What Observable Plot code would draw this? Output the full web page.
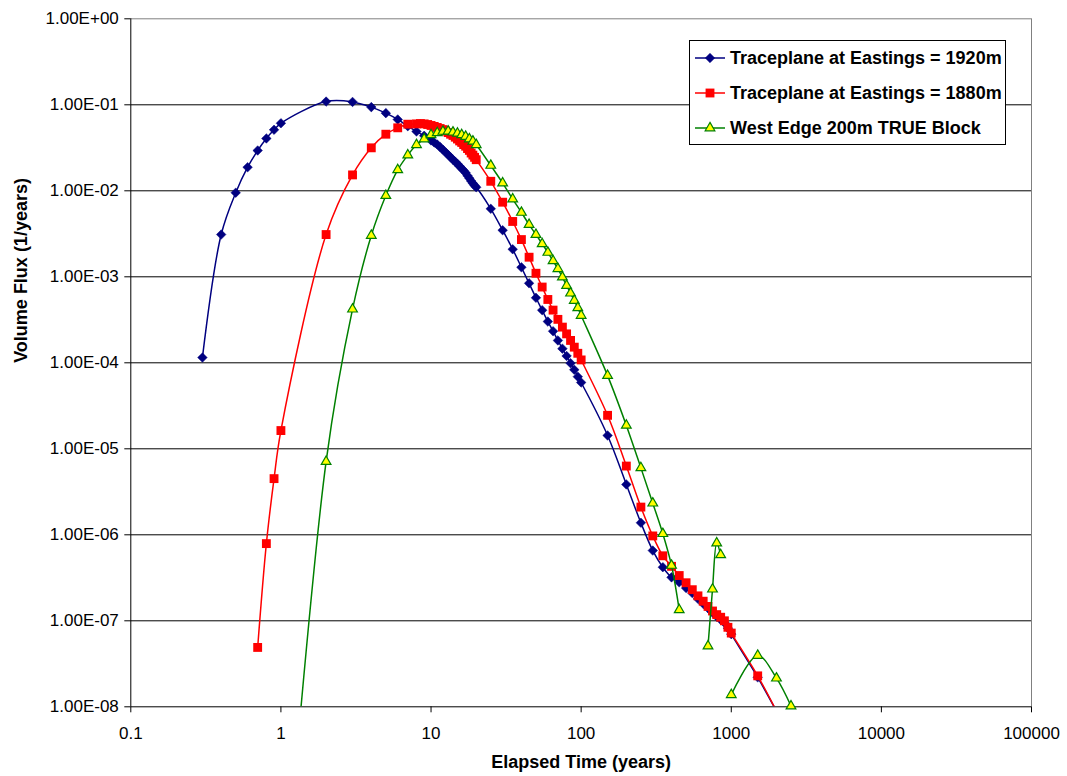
<!DOCTYPE html>
<html><head><meta charset="utf-8">
<script src="https://cdn.jsdelivr.net/npm/d3@7"></script>
<script src="https://cdn.jsdelivr.net/npm/@observablehq/plot@0.6"></script>
<style>
body{margin:0;background:#fff;}
#wrap{position:relative;width:1067px;height:776px;font-family:"Liberation Sans",Arial,sans-serif;}
#legend{position:absolute;left:689px;top:40px;width:315px;height:103px;border:1px solid #000;background:#fff;}
.row{position:absolute;left:0;height:20px;display:flex;align-items:center;font-weight:bold;font-size:18px;white-space:nowrap;color:#000;}
.row svg{margin-left:5px;margin-right:5px;}
</style></head><body><div id="wrap"></div>
<script>
// ---- tick values / labels ----
const xTickValues = [0.1, 1, 10, 100, 1000, 10000, 100000];
const xTickLabels = ["0.1", "1", "10", "100", "1000", "10000", "100000"];
const yTickValues = [1, 1e-1, 1e-2, 1e-3, 1e-4, 1e-5, 1e-6, 1e-7, 1e-8];
const yTickLabels = ["1.00E+00", "1.00E-01", "1.00E-02", "1.00E-03", "1.00E-04", "1.00E-05", "1.00E-06", "1.00E-07", "1.00E-08"];
const xTitle = "Elapsed Time (years)";
const yTitle = "Volume Flux (1/years)";
const seriesNames = ["Traceplane at Eastings = 1920m", "Traceplane at Eastings = 1880m", "West Edge 200m TRUE Block"];

// ---- series 1: Traceplane at Eastings = 1920m ----
const blueT = [0.3,0.4,0.5,0.6,0.7,0.8,0.9,1,2,3,4,5,6,7,8,9,10,
  10.5,11,11.5,12,12.5,13,13.5,14,14.5,15,15.5,16,16.5,17,17.5,18,18.5,19,19.5,20,
  25,30,35,40,45,50,55,60,65,70,75,80,85,90,95,100,
  150,200,250,300,350,400,450,500,550,600,650,700,750,800,850,900,950,1000,1500,2000];
const blueV = [1.15e-4,3.1e-3,9.5e-3,1.88e-2,2.94e-2,4.06e-2,5.12e-2,6.1e-2,0.109,0.108,0.094,0.080,0.0675,0.0564,0.049,0.0436,0.0385,
  3.65e-2,3.45e-2,3.22e-2,3.0e-2,2.8e-2,2.62e-2,2.45e-2,2.3e-2,2.18e-2,2.05e-2,1.93e-2,1.82e-2,1.72e-2,1.62e-2,1.5e-2,1.4e-2,1.3e-2,1.22e-2,1.15e-2,1.1e-2,
  6.18e-3,3.48e-3,2.09e-3,1.29e-3,8.4e-4,5.7e-4,4.09e-4,3.02e-4,2.33e-4,1.82e-4,1.46e-4,1.2e-4,9.9e-5,8.3e-5,6.9e-5,5.9e-5,
  1.43e-5,3.85e-6,1.38e-6,6.56e-7,4.2e-7,3.2e-7,2.8e-7,2.4e-7,2.1e-7,1.8e-7,1.58e-7,1.4e-7,1.25e-7,1.12e-7,1.03e-7,9.5e-8,8.2e-8,7.0e-8,2.2e-8,8.9e-9];

// ---- series 2: Traceplane at Eastings = 1880m ----
const redT = [0.7,0.8,0.9,1,2,3,4,5,6,7,
  8,8.5,9,9.5,10,10.5,11,11.5,12,12.5,13,13.5,14,14.5,15,15.5,16,16.5,17,17.5,18,18.5,19,19.5,20,
  25,30,35,40,45,50,55,60,65,70,75,80,85,90,95,100,
  150,200,250,300,350,400,450,500,550,600,650,700,750,800,850,900,950,1000,1500,2000];
const redV = [4.9e-8,7.9e-7,4.5e-6,1.63e-5,3.1e-3,1.53e-2,3.16e-2,4.55e-2,5.4e-2,5.95e-2,
  6.0e-2,6.05e-2,6.0e-2,5.9e-2,5.75e-2,5.6e-2,5.45e-2,5.3e-2,5.15e-2,4.95e-2,4.75e-2,4.55e-2,4.4e-2,4.2e-2,4.0e-2,3.8e-2,3.65e-2,3.45e-2,3.3e-2,3.1e-2,2.95e-2,2.75e-2,2.6e-2,2.45e-2,2.3e-2,
  1.29e-2,7.37e-3,4.4e-3,2.71e-3,1.69e-3,1.1e-3,7.6e-4,5.45e-4,4.1e-4,3.2e-4,2.6e-4,2.17e-4,1.82e-4,1.52e-4,1.29e-4,1.08e-4,
  2.45e-5,6.3e-6,2.1e-6,9.7e-7,5.7e-7,4.3e-7,3.36e-7,2.77e-7,2.3e-7,1.95e-7,1.69e-7,1.47e-7,1.3e-7,1.18e-7,1.1e-7,1.0e-7,8.4e-8,7.2e-8,2.29e-8,8.9e-9];

// ---- series 3: West Edge 200m TRUE Block ----
const greenT = [1,2,3,4,5,6,7,8,9,10,11,12,13,14,15,16,17,18,19,20,
  25,30,35,40,45,50,55,60,65,70,75,80,85,90,95,100,
  150,200,250,300,350,400,450,500,550,600,650,700,750,800,850,900,950,1000,1500,2000,2500];
const greenV = [2e-11,7.1e-6,4.2e-4,3.02e-3,8.8e-3,1.75e-2,2.6e-2,3.43e-2,4.0e-2,4.48e-2,4.72e-2,4.9e-2,4.93e-2,4.8e-2,4.66e-2,4.48e-2,4.28e-2,4.0e-2,3.77e-2,3.43e-2,
  1.97e-2,1.23e-2,8.0e-3,5.6e-3,4.05e-3,3.1e-3,2.42e-3,1.92e-3,1.53e-3,1.24e-3,9.9e-4,7.9e-4,6.45e-4,5.3e-4,4.36e-4,3.55e-4,
  7.1e-5,1.87e-5,6.0e-6,2.33e-6,1.03e-6,4.4e-7,1.34e-7,null,null,null,null,5.07e-8,2.33e-7,8.0e-7,5.85e-7,null,null,1.38e-8,3.95e-8,2.15e-8,1.02e-8];

const styles = [
  {stroke: "#000080", fill: "#000080", symbol: "diamond2", r: 4.3, sw: 0.5},
  {stroke: "#FF0000", fill: "#FF0000", symbol: "square", r: 5, sw: 0},
  {stroke: "#008000", fill: "#FFFF00", symbol: "triangle", r: 3.6, sw: 1.2}
];
const raw = [[blueT, blueV], [redT, redV], [greenT, greenV]];
const yMin = yTickValues[yTickValues.length - 1];

const marks = [
  Plot.ruleY(yTickValues.slice(1), {stroke: "#000", strokeWidth: 1}),
  Plot.ruleY([yTickValues[0]], {stroke: "#808080", strokeWidth: 1}),
  Plot.ruleX([xTickValues[xTickValues.length - 1]], {stroke: "#808080", strokeWidth: 1}),
  Plot.ruleX([xTickValues[0]], {stroke: "#000", strokeWidth: 1}),
  Plot.axisY({ticks: yTickValues, tickFormat: d => yTickLabels[yTickValues.indexOf(d)], tickSize: 6, tickPadding: 6, label: null, fontSize: 17}),
  Plot.axisX({ticks: xTickValues, tickFormat: d => xTickLabels[xTickValues.indexOf(d)], tickSize: 6, tickPadding: 14, label: null, fontSize: 17}),
  Plot.text([xTitle], {text: d => d, frameAnchor: "bottom", dy: 61, fontWeight: "bold", fontSize: 18}),
  Plot.text([yTitle], {text: d => d, frameAnchor: "left", dx: -110, rotate: -90, fontWeight: "bold", fontSize: 18})
];

raw.forEach(([T, V], i) => {
  const s = styles[i];
  const rows = T.map((t, j) => ({t, v: V[j]}));
  marks.push(Plot.line(rows, {x: "t", y: "v", stroke: s.stroke, strokeWidth: 1.5, curve: "catmull-rom", clip: true}));
  marks.push(Plot.dot(rows, {filter: d => d.v != null && d.v >= yMin, x: "t", y: "v", symbol: s.symbol, r: s.r, fill: s.fill, stroke: s.stroke, strokeWidth: s.sw}));
});

const chart = Plot.plot({
  width: 1067, height: 776,
  marginLeft: 130.3, marginRight: 36, marginTop: 18.3, marginBottom: 69.7,
  x: {type: "log", domain: [xTickValues[0], xTickValues[xTickValues.length - 1]]},
  y: {type: "log", domain: [yMin, yTickValues[0]]},
  style: {fontFamily: "'Liberation Sans', Arial, sans-serif", fontSize: "17px", color: "#000", background: "#fff"},
  marks
});
const wrap = document.getElementById("wrap");
wrap.appendChild(chart);

// ---- legend ----
const legend = document.createElement("div");
legend.id = "legend";
const centers = [17, 52, 87];
seriesNames.forEach((name, i) => {
  const s = styles[i];
  const row = document.createElement("div");
  row.className = "row";
  row.style.top = (centers[i] - 10) + "px";
  const svg = d3.create("svg").attr("width", 30).attr("height", 20);
  svg.append("line").attr("x1", 0).attr("x2", 30).attr("y1", 10).attr("y2", 10).attr("stroke", s.stroke).attr("stroke-width", 1.5);
  const symMap = {diamond2: d3.symbolDiamond2, square: d3.symbolSquare, triangle: d3.symbolTriangle};
  svg.append("path").attr("transform", "translate(15,10)")
    .attr("d", d3.symbol(symMap[s.symbol], Math.PI * s.r * s.r)())
    .attr("fill", s.fill).attr("stroke", s.stroke).attr("stroke-width", s.sw);
  row.appendChild(svg.node());
  const span = document.createElement("span");
  span.textContent = name;
  row.appendChild(span);
  legend.appendChild(row);
});
wrap.appendChild(legend);
</script>
</body></html>
